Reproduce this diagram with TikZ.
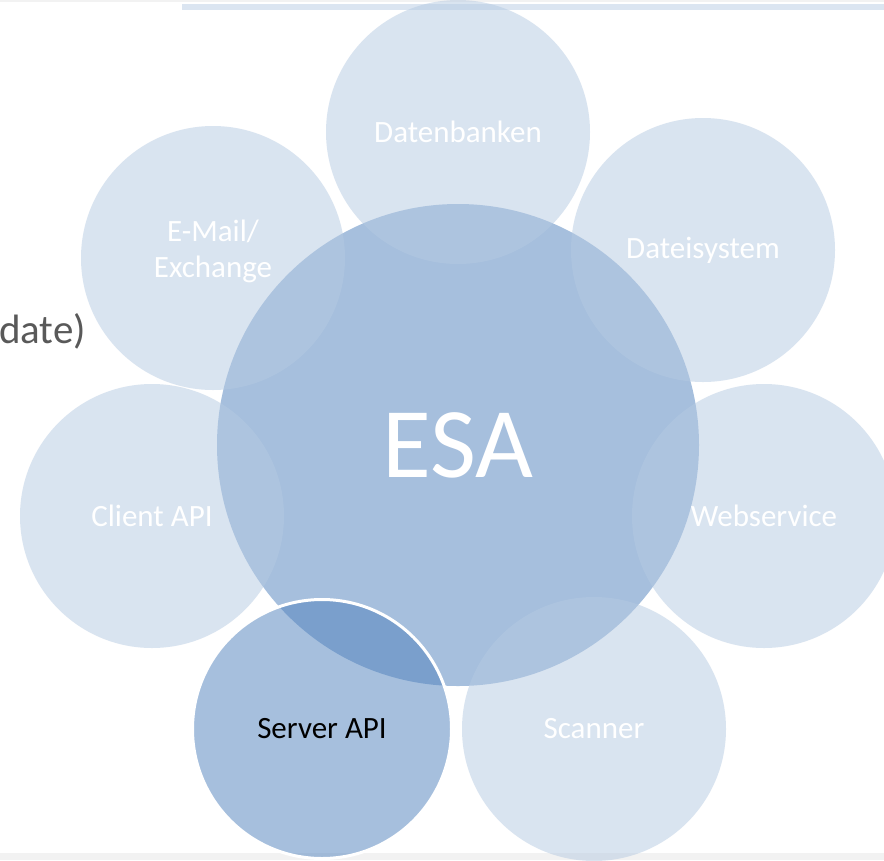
\documentclass[tikz,border=0pt]{standalone}
\usepackage{fontspec}
\setmainfont{Carlito}
\definecolor{officeblue}{HTML}{4F81BD}
\definecolor{satblue}{RGB}{181,202,226}
\definecolor{linelight}{HTML}{DBE5F1}
\definecolor{bandgray}{HTML}{F2F2F2}
\definecolor{textgray}{HTML}{595959}
\tikzset{
  sat/.style={circle, inner sep=0pt, minimum size=264pt, fill=satblue, fill opacity=0.5, text opacity=1, text=white, font=\fontsize{31}{36}\selectfont, align=center},
  core/.style={circle, inner sep=0pt, minimum size=482pt, fill=officeblue, fill opacity=0.5, text opacity=1, text=white, font=\fontsize{100}{110}\selectfont},
  server/.style={circle, inner sep=0pt, minimum size=259pt, fill=officeblue, fill opacity=0.5, draw=white, draw opacity=1, line width=3pt, text opacity=1, text=black, font=\fontsize{31}{36}\selectfont},
  lbl/.style={inner sep=0pt, text=white, font=\fontsize{31}{36}\selectfont, align=center}
}
\begin{document}
\begin{tikzpicture}[x=1pt,y=-1pt]
\useasboundingbox (0,0) rectangle (884,860);
\fill[white] (0,0) rectangle (884,860);
\fill[bandgray] (0,0) rectangle (884,1.5);
\fill[bandgray] (0,853) rectangle (884,860);
\fill[linelight] (182,4.3) rectangle (884,10.3);
\node[anchor=base west, text=textgray, font=\fontsize{41}{46}\selectfont, inner sep=0pt] (upd) at (-1,343) {date)};
\node[core] (esa) at (458,445) {};
\node[sat] (db) at (458,132) {Datenbanken};
\node[sat] (fs) at (703,250) {Dateisystem};
\node[sat] (mail) at (213,258) {};
\node[lbl] (mailtext) at (213,251) {E-Mail/\\Exchange};
\node[sat] (client) at (152,516) {Client API};
\node[sat] (web) at (764,516) {Webservice};
\node[sat] (scan) at (594,729) {Scanner};
\node[server] (srv) at (322,729) {Server API};
\node[text=white, font=\fontsize{100}{110}\selectfont, inner sep=0pt] (esalabel) at (esa.center) {ESA};
\end{tikzpicture}
\end{document}
